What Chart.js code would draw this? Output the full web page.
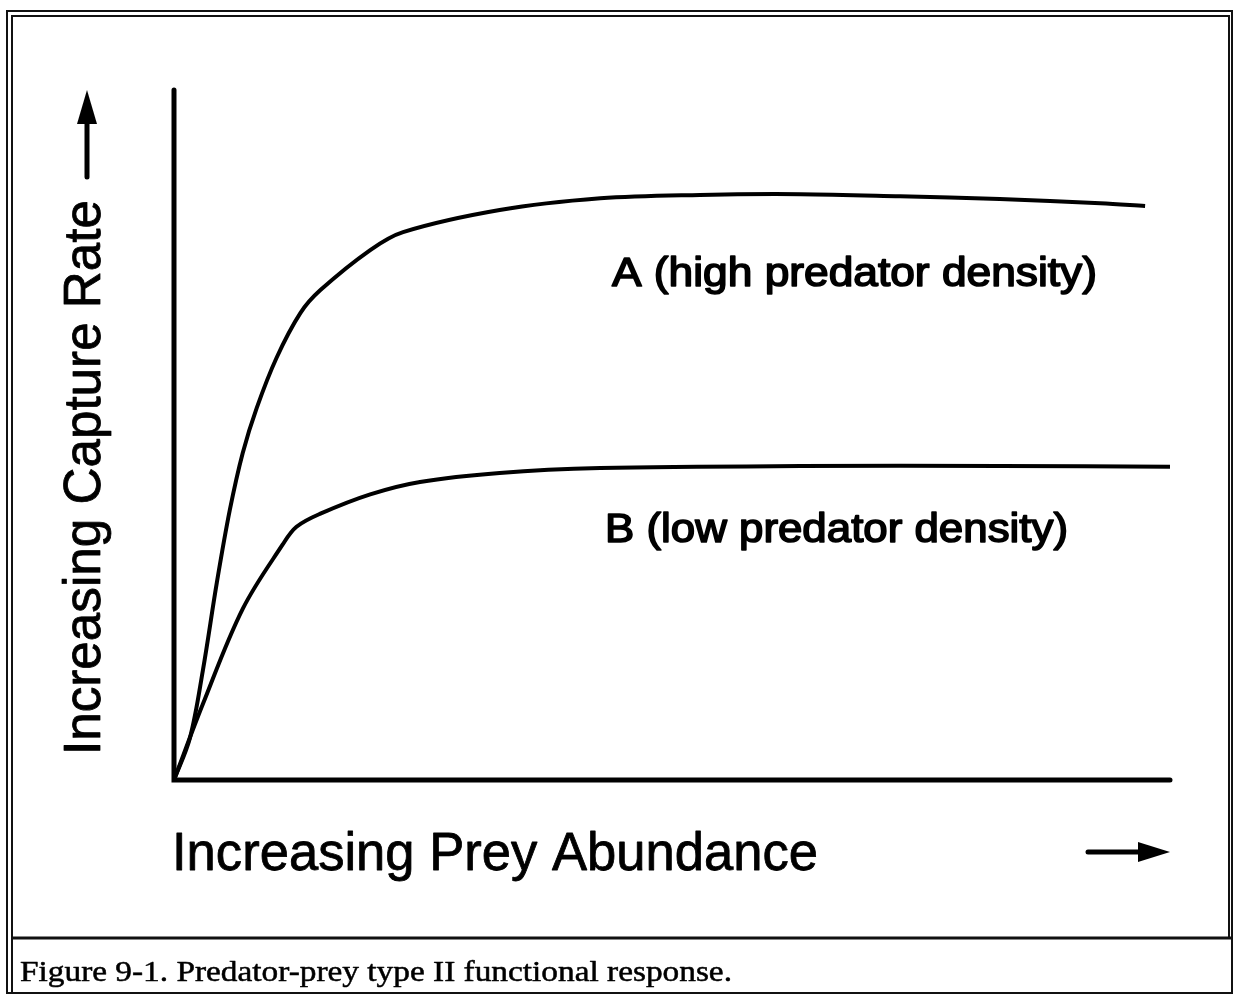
<!doctype html>
<html>

<head>
  <script src="https://cdn.jsdelivr.net/npm/chart.js@4/dist/chart.umd.min.js"></script>
  <style>
    body { margin: 0; background: #fff; }
  </style>
</head>

<body>
  <canvas id="canvas" width="1237" height="996"></canvas>
  <script>
    // prey abundance (0-100) and capture rate (0-100)
    const preyA = [0, 1.6, 2.9, 4.3, 5.6, 6.9, 8.3, 10.3, 12.7, 14.7, 19.7, 23, 32.7, 42.8, 52.8, 62.9, 72.9, 82.9, 93, 97.5];
    const captureA = [0, 6.1, 15.9, 28.6, 39.1, 47.4, 53.9, 61.2, 67.7, 71.0, 76.8, 79.4, 82.6, 84.3, 84.8, 84.9, 84.6, 84.2, 83.6, 83.2];
    const preyB = [0, 2.9, 6.9, 10.9, 12.3, 14.7, 19.7, 24.7, 32.7, 42.8, 62.9, 82.9, 100];
    const captureB = [0, 11.0, 24.8, 34.1, 36.7, 38.6, 41.4, 43.2, 44.5, 45.2, 45.5, 45.5, 45.4];

    const seriesLabels = ['A (high predator density)', 'B (low predator density)'];
    const xTitle = 'Increasing Prey Abundance';
    const yTitle = 'Increasing Capture Rate';
    const caption = 'Figure 9-1. Predator-prey type II functional response.';

    const toPoints = (xs, ys) => xs.map((x, i) => ({x: x, y: ys[i]}));

    // draw text squeezed/stretched to a given width, slightly thickened like the scan
    function fitText(ctx, text, x, y, w, font, weight, rot) {
      ctx.save();
      ctx.font = font;
      const m = ctx.measureText(text).width;
      ctx.translate(x, y);
      if (rot) ctx.rotate(rot);
      ctx.scale(w / m, 1);
      ctx.textAlign = 'left';
      ctx.textBaseline = 'alphabetic';
      ctx.fillText(text, 0, 0);
      if (weight) {
        ctx.lineWidth = weight;
        ctx.lineJoin = 'round';
        ctx.strokeText(text, 0, 0);
      }
      ctx.restore();
    }

    const figure = {
      id: 'figure',
      beforeDraw(chart) {
        const ctx = chart.ctx;
        ctx.save();
        ctx.fillStyle = '#fff';
        ctx.fillRect(0, 0, chart.width, chart.height);
        ctx.strokeStyle = '#111';
        // outer double frame
        ctx.lineWidth = 2;
        ctx.strokeRect(7, 11, 1225, 982);
        ctx.beginPath();
        ctx.moveTo(12, 993); ctx.lineTo(12, 16); ctx.lineTo(1229, 16); ctx.lineTo(1229, 938);
        ctx.stroke();
        // caption divider
        ctx.lineWidth = 3;
        ctx.beginPath();
        ctx.moveTo(12, 938); ctx.lineTo(1232, 938);
        ctx.stroke();
        ctx.restore();
      },
      afterDraw(chart) {
        const ctx = chart.ctx;
        const x = chart.scales.x, y = chart.scales.y;
        const x0 = x.getPixelForValue(0), x1 = x.getPixelForValue(100);
        const y0 = y.getPixelForValue(0), y1 = y.getPixelForValue(100);
        ctx.save();
        ctx.strokeStyle = '#000';
        ctx.fillStyle = '#000';
        ctx.lineCap = 'round';
        // axes
        ctx.lineWidth = 5;
        ctx.beginPath();
        ctx.moveTo(x0, y1); ctx.lineTo(x0, y0); ctx.lineTo(x1, y0);
        ctx.stroke();

        // up arrow next to y title
        ctx.lineWidth = 5;
        ctx.beginPath();
        ctx.moveTo(87, 177); ctx.lineTo(87, 120);
        ctx.stroke();
        ctx.beginPath();
        ctx.moveTo(87, 90); ctx.lineTo(97, 124); ctx.lineTo(77, 124); ctx.closePath();
        ctx.fill();

        // right arrow next to x title
        ctx.beginPath();
        ctx.moveTo(1088, 852); ctx.lineTo(1142, 852);
        ctx.stroke();
        ctx.beginPath();
        ctx.moveTo(1170, 852); ctx.lineTo(1138, 842); ctx.lineTo(1138, 862); ctx.closePath();
        ctx.fill();

        // titles
        const sans = '"Liberation Sans", Arial, sans-serif';
        fitText(ctx, yTitle, 100, 755, 555, '52px ' + sans, 0.8, -Math.PI / 2);
        fitText(ctx, xTitle, 172, 870, 646, '53px ' + sans, 0.8);
        fitText(ctx, seriesLabels[0], 612, 286, 485, '40px ' + sans, 1.6);
        fitText(ctx, seriesLabels[1], 605, 542, 463, '40px ' + sans, 1.6);
        fitText(ctx, caption, 20, 981, 712, '29px "Liberation Serif", "Times New Roman", serif', 0.5);
        ctx.restore();
      }
    };

    new Chart(document.getElementById('canvas').getContext('2d'), {
      type: 'line',
      data: {
        datasets: [{
          label: seriesLabels[0],
          data: toPoints(preyA, captureA),
          borderColor: '#000',
          borderWidth: 4,
          pointRadius: 0,
          tension: 0.35,
          clip: false
        }, {
          label: seriesLabels[1],
          data: toPoints(preyB, captureB),
          borderColor: '#000',
          borderWidth: 4,
          pointRadius: 0,
          tension: 0.35,
          clip: false
        }]
      },
      options: {
        responsive: false,
        animation: false,
        layout: {
          padding: {left: 174, top: 90, right: 67, bottom: 216}
        },
        scales: {
          x: {type: 'linear', min: 0, max: 100, display: false},
          y: {type: 'linear', min: 0, max: 100, display: false}
        },
        plugins: {
          legend: {display: false},
          tooltip: {enabled: false}
        }
      },
      plugins: [figure]
    });
  </script>
</body>

</html>
